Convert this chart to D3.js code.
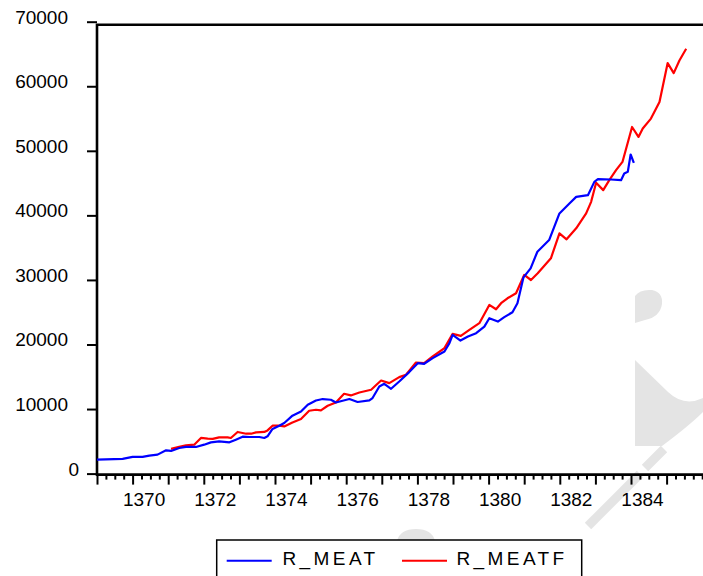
<!DOCTYPE html>
<html>
<head>
<meta charset="utf-8">
<script src="https://cdn.jsdelivr.net/npm/d3@7"></script>
<style>
  html, body { margin: 0; padding: 0; background: #fff; }
  svg { display: block; font-family: "Liberation Sans", Arial, sans-serif; }
</style>
</head>
<body>
<svg id="chart" width="703" height="576"></svg>
<script>
// Monthly price series (decimal years of the Iranian calendar)
const meatTime = [1369.00,1369.72,1370.00,1370.28,1370.47,1370.70,1370.94,1371.08,1371.31,1371.50,1371.78,1372.01,1372.20,1372.43,1372.72,1372.90,1373.09,1373.28,1373.56,1373.70,1373.79,1373.93,1374.12,1374.26,1374.49,1374.73,1374.92,1375.15,1375.34,1375.57,1375.71,1376.09,1376.32,1376.65,1376.74,1376.93,1377.07,1377.26,1377.49,1377.77,1378.01,1378.19,1378.43,1378.76,1378.90,1378.99,1379.21,1379.42,1379.65,1379.88,1380.02,1380.26,1380.44,1380.67,1380.81,1380.98,1381.18,1381.37,1381.70,1381.99,1382.27,1382.46,1382.79,1382.97,1383.07,1383.44,1383.72,1383.81,1383.91,1383.99,1384.08];
const meatValue = [2160,2270,2580,2580,2780,2940,3600,3510,3970,4130,4130,4480,4840,4990,4840,5260,5720,5670,5670,5520,5770,6910,7420,7840,8970,9630,10670,11330,11550,11440,11020,11550,11090,11330,11700,13500,13910,13140,14270,15720,17110,17010,17890,18910,20210,21490,20610,21230,21750,22770,24070,23550,24230,25000,26390,30400,31800,34370,36180,40300,41850,42870,43130,45190,45610,45560,45450,46490,46740,49430,48130];

const meatfTime = [1371.08,1371.31,1371.50,1371.73,1371.92,1372.11,1372.25,1372.43,1372.67,1372.76,1372.95,1373.19,1373.33,1373.47,1373.70,1373.79,1373.93,1374.12,1374.26,1374.49,1374.73,1374.96,1375.15,1375.29,1375.48,1375.71,1375.94,1376.13,1376.37,1376.70,1376.88,1376.98,1377.21,1377.49,1377.68,1377.96,1378.19,1378.43,1378.76,1378.99,1379.22,1379.46,1379.74,1380.02,1380.21,1380.35,1380.53,1380.77,1381.00,1381.19,1381.38,1381.75,1381.99,1382.19,1382.46,1382.74,1382.88,1383.02,1383.22,1383.39,1383.58,1383.76,1384.03,1384.21,1384.33,1384.56,1384.80,1385.03,1385.20,1385.36,1385.55];
const meatfValue = [3820,4130,4380,4480,5520,5410,5370,5610,5610,5520,6450,6180,6180,6390,6450,6690,7420,7420,7310,7930,8460,9740,9890,9790,10510,11020,12370,12110,12570,12990,13910,14420,14020,14950,15310,17210,17110,18140,19430,21640,21340,22260,23300,26130,25460,26390,27160,27940,30770,29990,31030,33350,37210,36290,37990,40300,42100,45040,43910,45450,47000,48280,53690,52150,53450,54990,57560,63590,62040,64000,65810];

const yTicks = [0, 10000, 20000, 30000, 40000, 50000, 60000, 70000];
const yearTicks = [1369,1370,1371,1372,1373,1374,1375,1376,1377,1378,1379,1380,1381,1382,1383,1384,1385];
const seriesNames = ["R_MEAT", "R_MEATF"];
const seriesColors = ["#0000ff", "#ff0000"];

const svg = d3.select("#chart");
svg.append("rect").attr("width", 703).attr("height", 576).attr("fill", "#fff");

// light grey background emblem
const deco = svg.append("g").attr("fill", "#e4e4e4").attr("stroke", "none");
deco.append("path").attr("d", "M635,296 Q640,289 652,290 Q663,292 662,304 Q660,317 645,320 L635,323 Z");
deco.append("path").attr("d", "M635,360 L668,392 Q684,407 703,398 L703,412 Q690,425 662,446 L635,446 Z");
deco.append("path").attr("d", "M397,541 Q400,529 416,529 Q432,529 435,541 Z");
const slash = svg.append("g").attr("stroke", "#e4e4e4").attr("stroke-width", 9).attr("stroke-linecap", "butt");
slash.append("line").attr("x1", 664).attr("y1", 449).attr("x2", 645).attr("y2", 468);
slash.append("line").attr("x1", 640).attr("y1", 474).attr("x2", 588).attr("y2", 526);

const x = d3.scaleLinear().domain([1369, 1386]).range([97, 702.2]);
const y = d3.scaleLinear().domain([0, 70000]).range([473.6, 21.7]);

// quarterly minor ticks
const quarters = [];
yearTicks.forEach(yr => { for (let q = 1; q < 4; q++) quarters.push(yr + q / 4); });
quarters.push(1386);

const axisY = 474.6;
const minor = svg.append("g").attr("transform", `translate(0,${axisY})`)
  .call(d3.axisBottom(x).tickValues(quarters).tickSize(5).tickFormat(""));
minor.select(".domain").remove();
minor.selectAll("line").attr("stroke", "#000").attr("stroke-width", 2);

const major = svg.append("g").attr("transform", `translate(0,${axisY})`)
  .call(d3.axisBottom(x).tickValues(yearTicks).tickSize(10)
    .tickFormat(d => d % 2 === 0 ? String(d) : ""));
major.select(".domain").remove();
major.selectAll("line").attr("stroke", "#000").attr("stroke-width", 2);
major.selectAll("text").attr("fill", "#000").attr("font-size", 19)
  .attr("font-family", "Liberation Sans, Arial, sans-serif")
  .attr("dy", null).attr("y", 31).attr("dx", 11);

const left = svg.append("g").attr("transform", "translate(97,0)")
  .call(d3.axisLeft(y).tickValues(yTicks).tickSize(10).tickFormat(d3.format("d")));
left.select(".domain").remove();
left.selectAll("line").attr("stroke", "#000").attr("stroke-width", 2);
left.selectAll("text").attr("fill", "#000").attr("font-size", 19)
  .attr("font-family", "Liberation Sans, Arial, sans-serif")
  .attr("dy", null).attr("y", 1.5).attr("x", d => d === 0 ? -18 : -29);

// frame: left axis, top rule, bottom axis
svg.append("path")
  .attr("d", `M703,24.7 H97 V${axisY} H703`)
  .attr("fill", "none").attr("stroke", "#000").attr("stroke-width", 2.6);

const line = d3.line().x(d => x(d[0])).y(d => y(d[1]));
const meat = d3.zip(meatTime, meatValue);
const meatf = d3.zip(meatfTime, meatfValue);

svg.append("path").datum(meatf).attr("d", line)
  .attr("fill", "none").attr("stroke", seriesColors[1]).attr("stroke-width", 2.2)
  .attr("stroke-linejoin", "round");
svg.append("path").datum(meat).attr("d", line)
  .attr("fill", "none").attr("stroke", seriesColors[0]).attr("stroke-width", 2.2)
  .attr("stroke-linejoin", "round");

// legend
const legend = svg.append("g");
legend.append("rect").attr("x", 216.7).attr("y", 540).attr("width", 365).attr("height", 60)
  .attr("fill", "#fff").attr("stroke", "#000").attr("stroke-width", 1.5);
const legendPos = [{lx: 226.7, tx: 282.5}, {lx: 402, tx: 456.5}];
seriesNames.forEach((name, i) => {
  legend.append("line").attr("x1", legendPos[i].lx).attr("x2", legendPos[i].lx + 45)
    .attr("y1", 560.7).attr("y2", 560.7)
    .attr("stroke", seriesColors[i]).attr("stroke-width", 2);
  legend.append("text").attr("x", legendPos[i].tx).attr("y", 565)
    .attr("font-size", 19).attr("letter-spacing", "3.4px").attr("fill", "#000")
    .text(name);
});
</script>
</body>
</html>
